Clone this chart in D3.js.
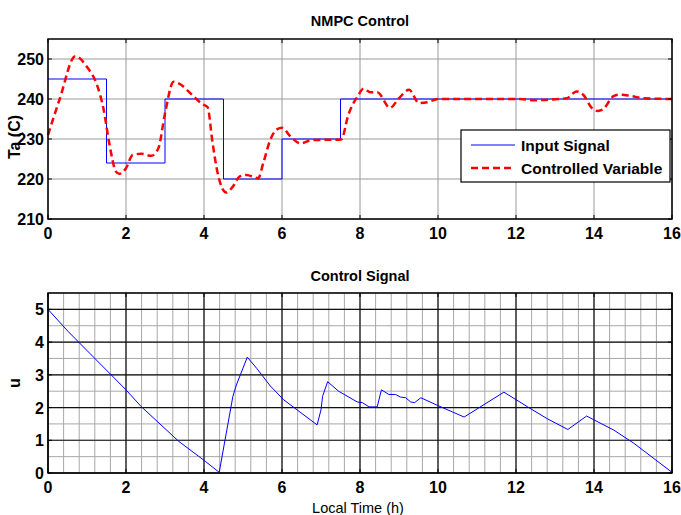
<!DOCTYPE html>
<html>
<head>
<meta charset="utf-8">
<script src="https://cdn.jsdelivr.net/npm/d3@7"></script>
<style>
body { margin: 0; background: #fff; }
text { font-family: "Liberation Sans", Arial, sans-serif; }
</style>
</head>
<body>
<script>
// input signal (step setpoints)
var stepTimes = [0, 1.5, 3, 4.5, 6, 7.5, 16];
var stepValues = [245, 224, 240, 220, 230, 240, 240];

// controlled variable Ta
var cvTime = [0, 0.3, 0.7, 1.0, 1.26, 1.43, 1.57, 1.74, 1.83, 2.0, 2.17, 2.39, 2.65, 2.83, 3.0, 3.22, 3.35, 3.7, 3.96, 4.09, 4.22, 4.35, 4.57, 4.74, 4.91, 5.09, 5.39, 5.52, 5.7, 5.87, 6.0, 6.22, 6.48, 6.74, 7.52, 7.7, 7.96, 8.09, 8.27, 8.44, 8.77, 9.0, 9.26, 9.51, 9.73, 10.0, 12.1, 12.45, 13.3, 13.55, 13.73, 13.94, 14.1, 14.23, 14.5, 14.67, 14.93, 15.27, 16];
var cvValue = [231, 240, 250.7, 248, 243.4, 237.2, 229, 221.9, 221.3, 222.7, 226, 226.3, 225.8, 227.7, 236.4, 244.3, 243.9, 241, 238.7, 238, 229, 221.5, 216.6, 218.1, 220.6, 221, 220.2, 224, 229.8, 232.4, 232.8, 230.6, 228.9, 229.7, 229.9, 236, 241, 242.6, 241.7, 241.7, 237.8, 240.2, 242.3, 239, 239.2, 240, 240, 239.7, 240.2, 241.9, 241, 237.8, 237, 237.4, 240.7, 241.1, 240.8, 240.2, 240];

// control signal u
var uTime = [0, 0.52, 2.0, 2.39, 3.35, 4.03, 4.39, 4.74, 4.83, 5.11, 5.35, 5.7, 6.04, 6.9, 7.0, 7.04, 7.17, 7.45, 7.93, 8.06, 8.23, 8.44, 8.55, 8.74, 8.91, 9.04, 9.17, 9.3, 9.4, 9.56, 9.98, 10.67, 11.69, 12.3, 12.8, 13.33, 13.81, 14.51, 15.02, 16];
var uValue = [5, 4.32, 2.54, 2.03, 0.97, 0.36, 0.02, 2.34, 2.69, 3.54, 3.2, 2.66, 2.24, 1.47, 1.93, 2.34, 2.79, 2.5, 2.17, 2.15, 2.02, 2.02, 2.54, 2.4, 2.4, 2.32, 2.3, 2.17, 2.15, 2.3, 2.07, 1.71, 2.47, 2.02, 1.66, 1.33, 1.74, 1.31, 0.91, 0.02];

var xTicks = [0, 2, 4, 6, 8, 10, 12, 14, 16];
var taTicks = [210, 220, 230, 240, 250];
var uTicks = [0, 1, 2, 3, 4, 5];

var width = 681, height = 515;
var left = 48, right = 672;

var svg = d3.select("body").append("svg")
    .attr("width", width)
    .attr("height", height);

var x = d3.scaleLinear().domain([0, 16]).range([left, right]);
var y1 = d3.scaleLinear().domain([210, 255]).range([219, 39]);
var y2 = d3.scaleLinear().domain([0, 5.5]).range([473, 293]);

function tickMarks(g, y, yt, top, bottom) {
    // small inward ticks on all four sides, matlab style
    xTicks.forEach(function(t) {
        g.append("line").attr("x1", x(t)).attr("x2", x(t)).attr("y1", top).attr("y2", top + 4)
            .attr("stroke", "#000");
        g.append("line").attr("x1", x(t)).attr("x2", x(t)).attr("y1", bottom).attr("y2", bottom - 4)
            .attr("stroke", "#000");
    });
    yt.forEach(function(t) {
        g.append("line").attr("x1", left).attr("x2", left + 4).attr("y1", y(t)).attr("y2", y(t))
            .attr("stroke", "#000");
        g.append("line").attr("x1", right).attr("x2", right - 4).attr("y1", y(t)).attr("y2", y(t))
            .attr("stroke", "#000");
    });
}

function axisLabels(g, y, yt, bottom) {
    g.selectAll(".xl").data(xTicks).enter().append("text")
        .attr("x", function(d) { return x(d); })
        .attr("y", bottom + 20)
        .attr("text-anchor", "middle")
        .attr("font-size", 16).attr("font-weight", "bold")
        .text(function(d) { return d; });
    g.selectAll(".yl").data(yt).enter().append("text")
        .attr("x", left - 4)
        .attr("y", function(d) { return y(d) + 6; })
        .attr("text-anchor", "end")
        .attr("font-size", 16).attr("font-weight", "bold")
        .text(function(d) { return d; });
}

// ---------- top panel ----------
var g1 = svg.append("g");
xTicks.forEach(function(t) {
    g1.append("line").attr("x1", x(t)).attr("x2", x(t)).attr("y1", 39).attr("y2", 219)
        .attr("stroke", "#9a9a9a").attr("stroke-width", 1);
});
taTicks.forEach(function(t) {
    g1.append("line").attr("x1", left).attr("x2", right).attr("y1", y1(t)).attr("y2", y1(t))
        .attr("stroke", "#9a9a9a").attr("stroke-width", 1);
});

var stepLine = d3.line().curve(d3.curveStepAfter)
    .x(function(d, i) { return x(stepTimes[i]); })
    .y(function(d) { return y1(d); });
g1.append("path").attr("d", stepLine(stepValues))
    .attr("fill", "none").attr("stroke", "#0000ff").attr("stroke-width", 1);

var cvLine = d3.line().curve(d3.curveMonotoneX)
    .x(function(d, i) { return x(cvTime[i]); })
    .y(function(d) { return y1(d); });
g1.append("path").attr("d", cvLine(cvValue))
    .attr("fill", "none").attr("stroke", "#ff0000").attr("stroke-width", 2.5)
    .attr("stroke-dasharray", "7,4");

g1.append("rect").attr("x", left).attr("y", 39).attr("width", right - left).attr("height", 180)
    .attr("fill", "none").attr("stroke", "#000").attr("stroke-width", 1.5);
tickMarks(g1, y1, taTicks, 39, 219);
axisLabels(g1, y1, taTicks, 219);

g1.append("text").attr("x", 360).attr("y", 26).attr("text-anchor", "middle")
    .attr("font-size", 14.5).attr("font-weight", "bold").text("NMPC Control");
g1.append("text").attr("transform", "translate(20,137) rotate(-90)")
    .attr("text-anchor", "middle").attr("font-size", 16).attr("font-weight", "bold")
    .text("Ta (C)");

// legend
var lg = g1.append("g").attr("transform", "translate(461,130)");
lg.append("rect").attr("width", 209).attr("height", 52)
    .attr("fill", "#fff").attr("stroke", "#000").attr("stroke-width", 1.2);
lg.append("line").attr("x1", 10).attr("x2", 54).attr("y1", 15).attr("y2", 15)
    .attr("stroke", "#0000ff").attr("stroke-width", 1);
lg.append("line").attr("x1", 10).attr("x2", 54).attr("y1", 38).attr("y2", 38)
    .attr("stroke", "#ff0000").attr("stroke-width", 2.5).attr("stroke-dasharray", "7,4");
lg.append("text").attr("x", 60).attr("y", 21).attr("font-size", 15.5).attr("font-weight", "bold")
    .text("Input Signal");
lg.append("text").attr("x", 60).attr("y", 44).attr("font-size", 15.5).attr("font-weight", "bold")
    .text("Controlled Variable");

// ---------- bottom panel ----------
var g2 = svg.append("g");
var minorX = d3.range(0, 16.01, 0.4);
var minorY = d3.range(0, 5.51, 0.5);
minorX.forEach(function(t) {
    g2.append("line").attr("x1", x(t)).attr("x2", x(t)).attr("y1", 293).attr("y2", 473)
        .attr("stroke", "#a8a8a8").attr("stroke-width", 1);
});
minorY.forEach(function(t) {
    g2.append("line").attr("x1", left).attr("x2", right).attr("y1", y2(t)).attr("y2", y2(t))
        .attr("stroke", "#a8a8a8").attr("stroke-width", 1);
});
xTicks.forEach(function(t) {
    g2.append("line").attr("x1", x(t)).attr("x2", x(t)).attr("y1", 293).attr("y2", 473)
        .attr("stroke", "#111").attr("stroke-width", 1.2);
});
uTicks.forEach(function(t) {
    g2.append("line").attr("x1", left).attr("x2", right).attr("y1", y2(t)).attr("y2", y2(t))
        .attr("stroke", "#111").attr("stroke-width", 1.2);
});

var uLine = d3.line()
    .x(function(d, i) { return x(uTime[i]); })
    .y(function(d) { return y2(d); });
g2.append("path").attr("d", uLine(uValue))
    .attr("fill", "none").attr("stroke", "#0000ff").attr("stroke-width", 1);

g2.append("rect").attr("x", left).attr("y", 293).attr("width", right - left).attr("height", 180)
    .attr("fill", "none").attr("stroke", "#000").attr("stroke-width", 1.5);
tickMarks(g2, y2, uTicks, 293, 473);
axisLabels(g2, y2, uTicks, 473);

g2.append("text").attr("x", 360).attr("y", 281).attr("text-anchor", "middle")
    .attr("font-size", 14.5).attr("font-weight", "bold").text("Control Signal");
g2.append("text").attr("transform", "translate(20,383) rotate(-90)")
    .attr("text-anchor", "middle").attr("font-size", 16).attr("font-weight", "bold")
    .text("u");
g2.append("text").attr("x", 358).attr("y", 513).attr("text-anchor", "middle")
    .attr("font-size", 14.5).text("Local Time (h)");
</script>
</body>
</html>
